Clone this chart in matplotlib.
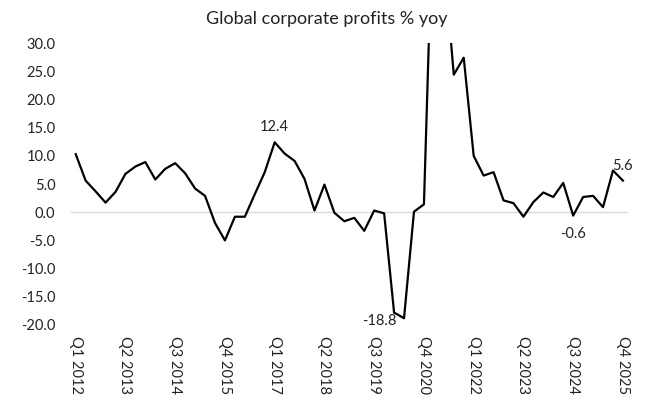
import numpy as np
import matplotlib
matplotlib.use("Agg")
import matplotlib.pyplot as plt

plt.rcParams['font.family'] = ['Lato', 'DejaVu Sans']

# quarterly data, Q1 2012 .. Q4 2025
quarters = [f"Q{q} {y}" for y in range(2012, 2026) for q in range(1, 5)]
profits_yoy = [
    10.3, 5.6, 3.7, 1.7, 3.6, 6.8, 8.1, 8.9,
    5.8, 7.7, 8.7, 6.9, 4.2, 2.9, -1.9, -5.0,
    -0.8, -0.8, 3.2, 7.1, 12.4, 10.4, 9.1, 5.9,
    0.3, 4.9, -0.1, -1.6, -1.0, -3.3, 0.3, -0.2,
    -17.8, -18.8, 0.1, 1.4, 60.0, 45.0, 24.4, 27.4,
    10.0, 6.5, 7.1, 2.1, 1.6, -0.8, 1.8, 3.5,
    2.7, 5.2, -0.6, 2.7, 2.9, 0.9, 7.4, 5.6,
]
yticks = [30, 25, 20, 15, 10, 5, 0, -5, -10, -15, -20]

# labelled points: index -> (dx, dy in pixels, ha)
labels = {
    20: (0, 15, 'center'),
    33: (-8, -3, 'right'),
    50: (0, -18, 'center'),
    55: (0, 15, 'center'),
}

fig = plt.figure(figsize=(6.5, 4.18), dpi=100)
ax = fig.add_axes([0.1088, 0.2225, 0.966 - 0.1088, 0.897 - 0.2225])

x = np.arange(len(profits_yoy))
ax.axhline(0, color='#d9d9d9', lw=1, zorder=1)
ax.plot(x, profits_yoy, color='black', lw=1.6, zorder=2)

for i, (dx, dy, ha) in labels.items():
    ax.annotate(f"{profits_yoy[i]:.1f}", (x[i], profits_yoy[i]),
                xytext=(dx, dy), textcoords='offset pixels',
                ha=ha, va='center', fontsize=10.5, color='#222222')

ax.set_xlim(-0.5, len(profits_yoy) - 0.5)
ax.set_ylim(-20, 30)
ax.set_yticks(yticks)
ax.set_yticklabels([f"{v:.1f}" for v in yticks])
ax.set_xticks(x[::5])
ax.set_xticklabels(quarters[::5], rotation=-90, va='top', ha='center')
ax.tick_params(axis='both', length=0, labelsize=10.5, colors='#222222')
ax.tick_params(axis='y', pad=11)
ax.tick_params(axis='x', pad=8)
for s in ax.spines.values():
    s.set_visible(False)

fig.suptitle("Global corporate profits % yoy", x=0.503, y=0.955,
             va='center', fontsize=13, color='#222222')

fig.savefig("out.png", dpi=100)
